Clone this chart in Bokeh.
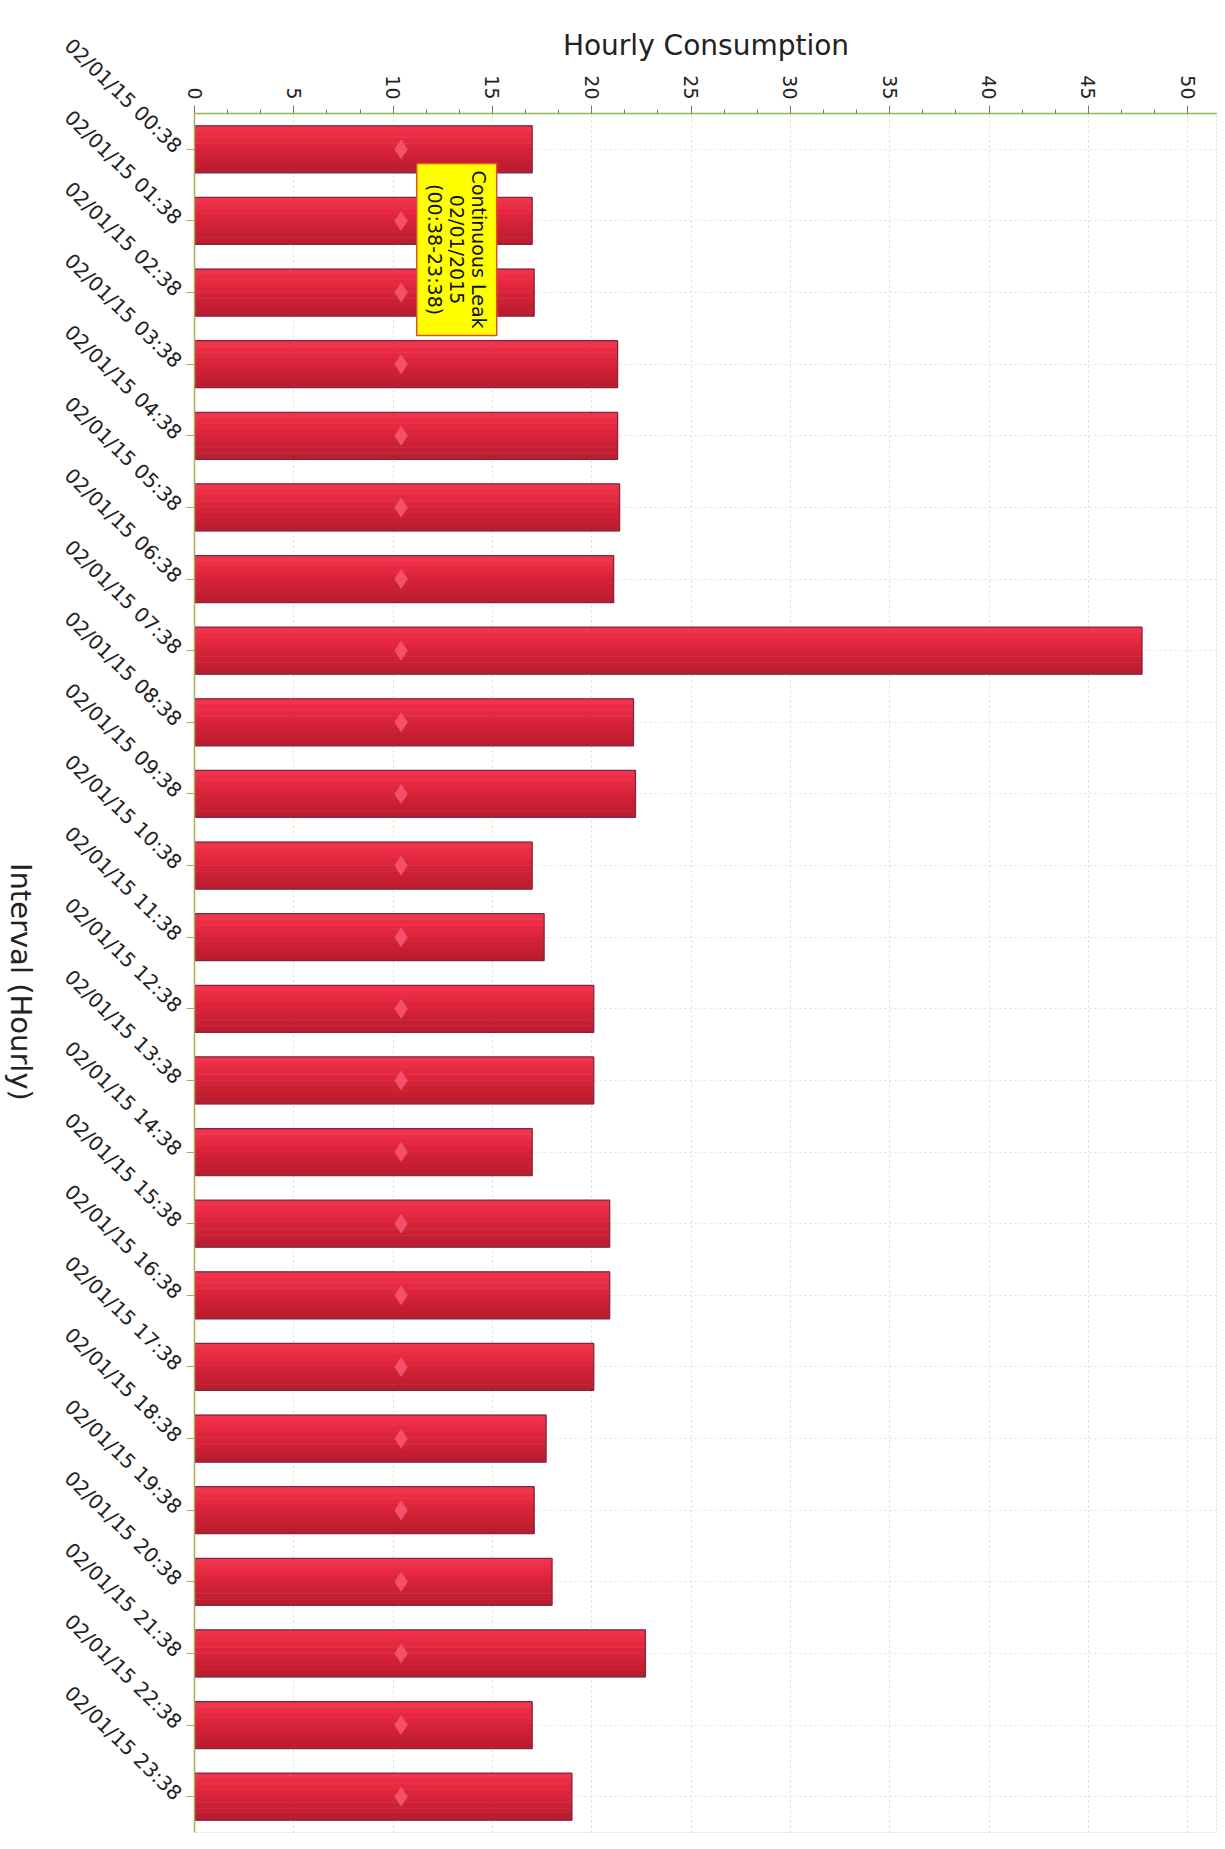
import math
from bokeh.plotting import figure
from bokeh.layouts import row
from bokeh.models import FactorRange, Range1d, SingleIntervalTicker, ColumnDataSource
from bokeh.transform import dodge
from bokeh.core.properties import value
from bokeh.embed import file_html
from bokeh.resources import INLINE

# ---------------- data ----------------
intervals = [
    "02/01/15 00:38", "02/01/15 01:38", "02/01/15 02:38", "02/01/15 03:38",
    "02/01/15 04:38", "02/01/15 05:38", "02/01/15 06:38", "02/01/15 07:38",
    "02/01/15 08:38", "02/01/15 09:38", "02/01/15 10:38", "02/01/15 11:38",
    "02/01/15 12:38", "02/01/15 13:38", "02/01/15 14:38", "02/01/15 15:38",
    "02/01/15 16:38", "02/01/15 17:38", "02/01/15 18:38", "02/01/15 19:38",
    "02/01/15 20:38", "02/01/15 21:38", "02/01/15 22:38", "02/01/15 23:38",
]
consumption = [
    17.0, 17.0, 17.1, 21.3, 21.3, 21.4, 21.1, 47.7,
    22.1, 22.2, 17.0, 17.6, 20.1, 20.1, 17.0, 20.9,
    20.9, 20.1, 17.7, 17.1, 18.0, 22.7, 17.0, 19.0,
]
marker_level = [
    10.4, 10.4, 10.4, 10.4, 10.4, 10.4, 10.4, 10.4,
    10.4, 10.4, 10.4, 10.4, 10.4, 10.4, 10.4, 10.4,
    10.4, 10.4, 10.4, 10.4, 10.4, 10.4, 10.4, 10.4,
]
x_axis_title = "Hourly Consumption"
y_axis_title = "Interval (Hourly)"
note_interval = ["02/01/15 01:38"]
note_value = [13.2]
note_text = ["Continuous Leak\n02/01/2015\n(00:38-23:38)"]

FONT = "DejaVu Sans"
TOTAL_H = 1840
TITLE_W = 40

src = ColumnDataSource(dict(cat=intervals, val=consumption, mk=marker_level))
note_src = ColumnDataSource(dict(cat=note_interval, x=note_value, t=note_text))

p = figure(
    width=1217 - TITLE_W, height=TOTAL_H,
    y_range=FactorRange(factors=intervals[::-1]),
    x_range=Range1d(0, 51.5),
    x_axis_location="above",
    output_backend="svg", toolbar_location=None,
    min_border_left=194 - TITLE_W, min_border_top=113, min_border_right=0, min_border_bottom=8,
    background_fill_color="white", border_fill_color="white",
)

# grid
p.xgrid.ticker = SingleIntervalTicker(interval=5)
p.xgrid.grid_line_color = "#d9dfb4"
p.xgrid.grid_line_dash = "2 3"
p.ygrid.grid_line_color = "#e2e6c4"
p.ygrid.grid_line_dash = "2 3"
p.outline_line_color = "#d9dfb4"
p.outline_line_dash = "2 2"

# bars: vertical gradient (light top -> dark bottom) emulated with thin bands
H = 0.657
band_colors = ["#f3324c", "#ec2d46", "#e42941", "#dc253c", "#d42238",
               "#cc2035", "#c41e32", "#bb1c2f"]
nb = len(band_colors)
bh = H / nb
for i, c in enumerate(band_colors):
    off = H / 2 - bh * (i + 0.5)
    p.hbar(y=dodge("cat", off, range=p.y_range), left=0, right="val",
           height=bh * 1.08, source=src, fill_color=c, line_color=None)
p.hbar(y="cat", left=0, right="val", height=H, source=src,
       fill_color=None, line_color="#7c2a44", line_width=1.3)

# diamonds
p.scatter(x="mk", y="cat", source=src, marker="diamond", size=20,
          fill_color="#f4506a", line_color=None)

# callout
p.text(x="x", y=dodge("cat", -0.4, range=p.y_range), text="t", source=note_src,
       angle=-math.pi / 2, text_align="center", text_baseline="middle",
       text_font=value(FONT), text_font_size="19px", text_color="#111111",
       text_line_height=1.0,
       background_fill_color="#ffff00", border_line_color="#e0502a", border_line_width=1.5,
       padding=7)

# top axis
xa = p.xaxis[0]
xa.ticker = SingleIntervalTicker(interval=5, num_minor_ticks=3)
xa.axis_line_color = "#8dbb4f"
xa.axis_line_width = 1.5
xa.major_tick_line_color = "#7d7d5c"
xa.major_tick_out = 8
xa.major_tick_in = 0
xa.minor_tick_line_color = "#7d7d5c"
xa.minor_tick_out = 4
xa.minor_tick_in = 0
xa.major_label_orientation = -math.pi / 2
xa.major_label_text_font = FONT
xa.major_label_text_font_size = "19px"
xa.major_label_text_color = "#222222"
xa.major_label_standoff = 6
xa.axis_label = x_axis_title
xa.axis_label_text_font = FONT
xa.axis_label_text_font_size = "28px"
xa.axis_label_text_font_style = "normal"
xa.axis_label_text_color = "#222222"
xa.axis_label_standoff = 10

# left axis
ya = p.yaxis[0]
ya.axis_line_color = "#b0ab55"
ya.axis_line_width = 1.5
ya.major_tick_line_color = "#b0ab55"
ya.major_tick_out = 8
ya.major_tick_in = 0
ya.major_label_orientation = -0.77
ya.major_label_text_font = FONT
ya.major_label_text_font_size = "20px"
ya.major_label_text_color = "#222222"
ya.major_label_standoff = 8

# left axis title (reads top to bottom) in a narrow strip figure beside the chart
t = figure(width=TITLE_W, height=TOTAL_H, x_range=Range1d(0, TITLE_W), y_range=Range1d(0, TOTAL_H),
           x_axis_type=None, y_axis_type=None, output_backend="svg", toolbar_location=None,
           min_border=0, outline_line_color=None,
           background_fill_color="white", border_fill_color="white")
t.grid.visible = False
title_y = TOTAL_H - (113 + 1832) / 2 + 43
t.text(x=[20], y=[title_y], text=[y_axis_title], angle=-math.pi / 2,
       text_align="center", text_baseline="middle",
       text_font=value(FONT), text_font_size="29px", text_color="#222222")

layout = row(t, p, spacing=0)
open("out.html", "w").write(file_html(layout, INLINE))
